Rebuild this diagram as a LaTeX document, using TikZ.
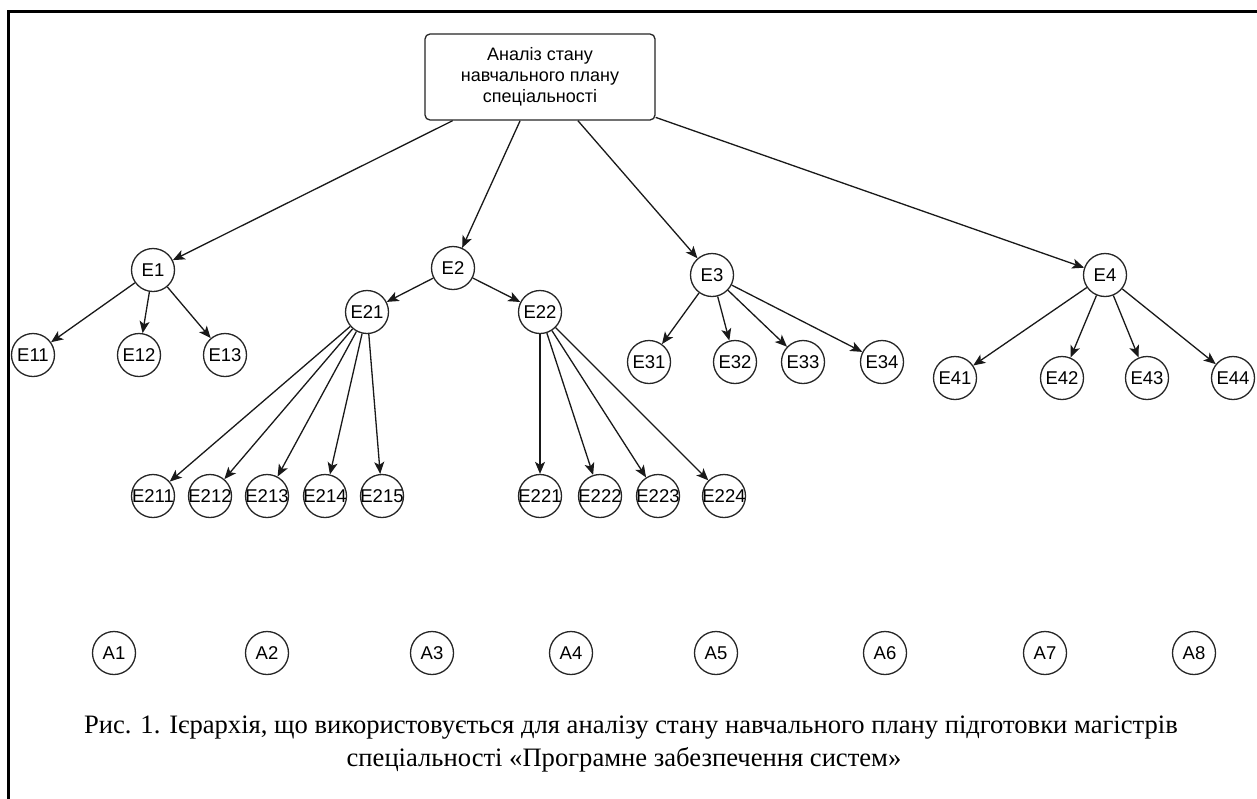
\documentclass[tikz,border=0pt]{standalone}
\usepackage{fontspec}
\setmainfont{Liberation Serif}
\newfontfamily\arialf{Liberation Sans}
\usetikzlibrary{arrows.meta}
\tikzset{
  en/.style={circle, draw=black!85, line width=1.3pt, minimum size=43pt, inner sep=0pt, font=\arialf\fontsize{18.5}{22}\selectfont},
  rootbox/.style={draw=black!85, line width=1.3pt, rounded corners=5pt, minimum width=230pt, minimum height=86pt, inner sep=0pt, align=center, font=\arialf\fontsize{18}{21}\selectfont},
  link/.style={draw=black!90, line width=1.3pt, -{Stealth[length=12pt, width=10pt, inset=3pt]}},
  framestyle/.style={line width=3.3pt, line cap=rect},
  captext/.style={anchor=base, font=\fontsize{26.6}{32}\selectfont, inner sep=0pt}
}
\newcommand\cnode[3]{\node[en] (#1) at (#2) {\makebox[0pt]{#3}};}
\begin{document}
\begin{tikzpicture}[x=1pt, y=-1pt]
\useasboundingbox (0,0) rectangle (1257,798);
\fill[white] (0,0) rectangle (1257,798);
% frame
\coordinate (fa) at (8.7,798);
\coordinate (fb) at (8.7,11.7);
\coordinate (fc) at (1262,11.7);
\draw[framestyle] (fa) -- (fb) -- (fc);
% root
\node[rootbox] (root) at (540,77) {Аналіз стану\\навчального плану\\спеціальності};
% level 1
\cnode{E1}{153,270}{E1}
\cnode{E2}{453,268}{E2}
\cnode{E3}{712,275}{E3}
\cnode{E4}{1105,275}{E4}
% E1 children
\cnode{E11}{33,355}{E11}
\cnode{E12}{139,355}{E12}
\cnode{E13}{225,355}{E13}
% E2 children
\cnode{E21}{367,312}{E21}
\cnode{E22}{540,312}{E22}
\cnode{E211}{153,496}{E211}
\cnode{E212}{210,496}{E212}
\cnode{E213}{267,496}{E213}
\cnode{E214}{325,496}{E214}
\cnode{E215}{382,496}{E215}
\cnode{E221}{540,496}{E221}
\cnode{E222}{600,496}{E222}
\cnode{E223}{658,496}{E223}
\cnode{E224}{724,496}{E224}
% E3 children
\cnode{E31}{649,362}{E31}
\cnode{E32}{735,362}{E32}
\cnode{E33}{803,362}{E33}
\cnode{E34}{882,362}{E34}
% E4 children
\cnode{E41}{955,378}{E41}
\cnode{E42}{1062,378}{E42}
\cnode{E43}{1147,378}{E43}
\cnode{E44}{1233,378}{E44}
% A row
\cnode{A1}{114,653}{A1}
\cnode{A2}{267,653}{A2}
\cnode{A3}{432,653}{A3}
\cnode{A4}{571,653}{A4}
\cnode{A5}{716,653}{A5}
\cnode{A6}{885,653}{A6}
\cnode{A7}{1045,653}{A7}
\cnode{A8}{1194,653}{A8}
% links
\foreach \t in {E1,E2,E3,E4} \draw[link] (root) -- (\t);
\foreach \t in {E11,E12,E13} \draw[link] (E1) -- (\t);
\foreach \t in {E21,E22} \draw[link] (E2) -- (\t);
\foreach \t in {E211,E212,E213,E214,E215} \draw[link] (E21) -- (\t);
\foreach \t in {E221,E222,E223,E224} \draw[link] (E22) -- (\t);
\foreach \t in {E31,E32,E33,E34} \draw[link] (E3) -- (\t);
\foreach \t in {E41,E42,E43,E44} \draw[link] (E4) -- (\t);
% caption
\node[captext] (cap1) at (631,733) {Рис. 1. Ієрархія, що використовується для аналізу стану навчального плану підготовки магістрів};
\node[captext] (cap2) at (624,766) {спеціальності «Програмне забезпечення систем»};
\end{tikzpicture}
\end{document}
